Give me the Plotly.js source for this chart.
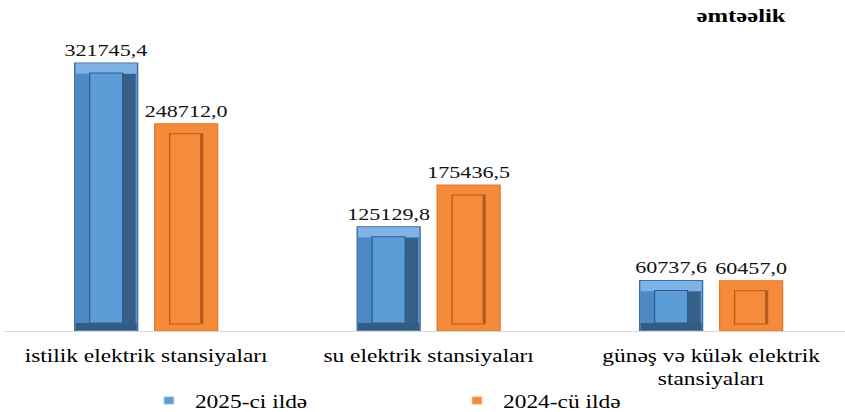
<!DOCTYPE html>
<html>
<head>
<meta charset="utf-8">
<script src="https://cdn.plot.ly/plotly-3.0.1.min.js"></script>
<style>
html,body{margin:0;padding:0;background:#fff;overflow:hidden;}
#chart{width:650px;height:412px;transform:scaleX(1.3);transform-origin:0 0;}
</style>
</head>
<body>
<div id="chart"></div>
<script>
const categories = ["istilik elektrik stansiyaları", "su elektrik stansiyaları", "günəş və külək elektrik<br>stansiyaları"];
const values2025 = [321745.4, 125129.8, 60737.6];
const values2024 = [248712.0, 175436.5, 60457.0];
const seriesNames = ["2025-ci ildə", "2024-cü ildə"];
const chartTitle = "əmtəəlik";

const FONT = "'Liberation Serif', 'Times New Roman', serif";
const fmt = v => v.toFixed(1).replace('.', ',');
const idx = categories.map((_, i) => i);

const S = 1.3;                         // horizontal stretch of the page
const W = 650;                         // layout width before stretch
const YMAX = 361400, PLOT_H = 301, XSPAN = 2.973;
const PX = YMAX / PLOT_H;              // data units per pixel (y)
const CX = XSPAN / 840;                // category units per final pixel (x)
const BW = 63 * CX;
const OFF_B = -71.5 * CX, OFF_O = 8.5 * CX;
const IX = 15 * CX;

function bar(vals, base, w, off, fill, line, lw, extra) {
  return Object.assign({
    type: 'bar', x: idx, y: vals, base: base, width: w, offset: off, showlegend: false,
    marker: {color: fill, line: {color: line, width: lw}}, hoverinfo: 'skip'
  }, extra || {});
}
function labelled(vals, fill, line, off) {
  return bar(vals, undefined, BW, off, fill, line, 1, {
    text: vals.map(fmt), textposition: 'outside', cliponaxis: false, constraintext: 'none',
    textfont: {family: FONT, size: 17, color: '#111'}
  });
}
function legendEntry(name, fill, line) {
  return {type: 'scatter', mode: 'markers', x: [null], y: [null], name: name, showlegend: true,
          marker: {symbol: 'square', size: 7, color: fill, line: {color: line, width: 1}}, hoverinfo: 'skip'};
}
const tops = (vals, dpx) => vals.map(v => v - dpx * PX);
const consts = (vals, dpx) => vals.map(() => dpx * PX);

const data = [
  labelled(values2025, '#5B9BD5', '#3F6E9C', OFF_B),
  labelled(values2024, '#F58A3B', '#E07A2C', OFF_O),
  // blue bevel pieces
  bar(consts(values2025, 10), tops(values2025, 10.5), BW - 2 * CX, OFF_B + 1 * CX, '#7FB2E6', '#7FB2E6', 0),
  bar(tops(values2025, 13), consts(values2025, 2), IX - 1.5 * CX, OFF_B + 1 * CX, '#4D89C4', '#4D89C4', 0),
  bar(tops(values2025, 13), consts(values2025, 2), IX - 2 * CX, OFF_B + BW - IX, '#36608A', '#36608A', 0),
  bar(consts(values2025, 7), consts(values2025, 1), BW - 2 * CX, OFF_B + 1 * CX, '#345B82', '#345B82', 0),
  // blue inner panel
  bar(tops(values2025, 18), consts(values2025, 8), BW - 2 * IX, OFF_B + IX, '#5D9DD7', '#2F5E8C', 1),
  // orange inner panel with darker right edge
  bar(tops(values2024, 17), consts(values2024, 7), BW - 2 * IX, OFF_O + IX, '#F68B3B', '#B95B1B', 1),
  bar(tops(values2024, 18), consts(values2024, 8), 2.5 * CX, OFF_O + BW - IX - 2.5 * CX, '#B5591B', '#B5591B', 0),
  legendEntry(seriesNames[0], '#5B9BD5', '#8DBBE6'),
  legendEntry(seriesNames[1], '#F58A3B', '#F6A46A')
];

const layout = {
  width: W, height: 412,
  margin: {l: 5 / S, r: 0, t: 30, b: 81, autoexpand: false},
  paper_bgcolor: '#fff', plot_bgcolor: '#fff',
  barmode: 'overlay',
  showlegend: true,
  title: {text: '<b>' + chartTitle + '</b>', x: 0.877, xanchor: 'center', xref: 'container',
          y: 0.962, yanchor: 'middle', yref: 'container',
          font: {family: FONT, size: 19, color: '#000'}},
  xaxis: {
    type: 'linear', range: [-0.499, -0.499 + XSPAN], tickvals: idx, ticktext: categories,
    showline: true, linecolor: '#D9D9D9', linewidth: 1, showgrid: false, zeroline: false,
    ticks: '', ticklabelstandoff: 8, automargin: false,
    tickfont: {family: FONT, size: 18, color: '#000'}, fixedrange: true
  },
  yaxis: {range: [0, YMAX], visible: false, showgrid: false, zeroline: false, automargin: false},
  legend: {
    orientation: 'h', x: 0.164, xanchor: 'left', xref: 'paper',
    y: 0.027, yanchor: 'middle', yref: 'container', bgcolor: 'rgba(0,0,0,0)',
    entrywidth: 192, font: {family: FONT, size: 18, color: '#000'},
    itemclick: false, itemdoubleclick: false
  }
};

Plotly.newPlot('chart', data, layout, {staticPlot: true, displayModeBar: false});
</script>
</body>
</html>
